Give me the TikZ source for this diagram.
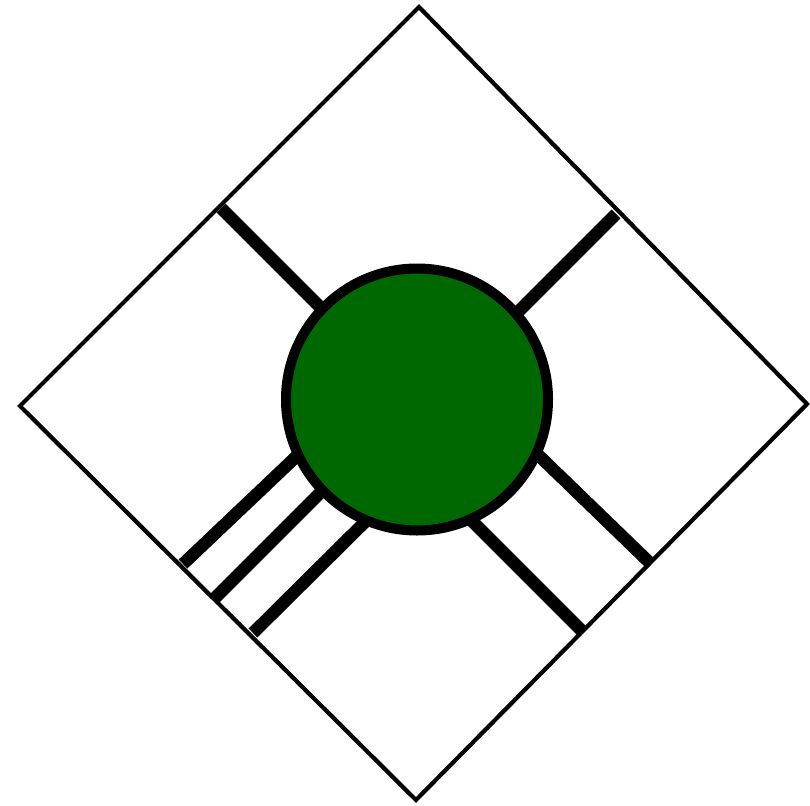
\documentclass[tikz,border=0pt]{standalone}
\begin{document}
\begin{tikzpicture}[x=1pt,y=-1pt,
  frame/.style={draw=black,line width=4.2pt,line join=miter},
  bar/.style={draw=black,line width=12.5pt,line cap=butt},
  hub/.style={circle,draw=black,fill=hubgreen,line width=10pt,minimum size=262pt,inner sep=0pt}]
\definecolor{hubgreen}{RGB}{0,104,0}
\useasboundingbox (0,0) rectangle (810,805);
\fill[white] (0,0) rectangle (810,805);
% diamond corners
\coordinate (T) at (419,7);
\coordinate (R) at (807,404);
\coordinate (B) at (416,800);
\coordinate (L) at (20,406);
% bar end points
\coordinate (ul1) at (221,208);  \coordinate (ul2) at (340,327);
\coordinate (ur1) at (616,214);  \coordinate (ur2) at (506,324);
\coordinate (lr1) at (651,564);  \coordinate (lr2) at (530,447);
\coordinate (lq1) at (583,632);  \coordinate (lq2) at (460,509);
\coordinate (la1) at (183,564);  \coordinate (la2) at (300,453);
\coordinate (lb1) at (215,598);  \coordinate (lb2) at (330,483);
\coordinate (lc1) at (253,633);  \coordinate (lc2) at (372,515);
\draw[bar] (ul1) -- (ul2);
\draw[bar] (ur1) -- (ur2);
\draw[bar] (lr1) -- (lr2);
\draw[bar] (lq1) -- (lq2);
\draw[bar] (la1) -- (la2);
\draw[bar] (lb1) -- (lb2);
\draw[bar] (lc1) -- (lc2);
\draw[frame] (T) -- (R) -- (B) -- (L) -- cycle;
\node[hub] (c) at (417,399.5) {};
\end{tikzpicture}
\end{document}
